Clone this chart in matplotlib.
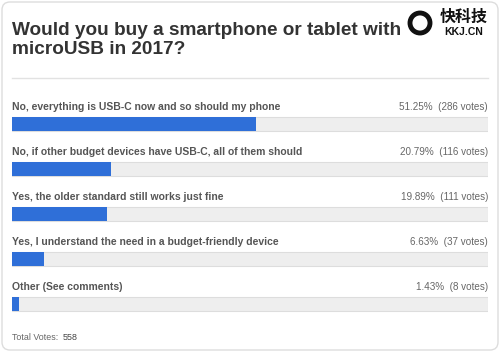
import matplotlib.pyplot as plt
from matplotlib.patches import FancyBboxPatch, Circle

plt.rcParams['font.family'] = ['Liberation Sans', 'DejaVu Sans']

title = "Would you buy a smartphone or tablet with\nmicroUSB in 2017?"
answers = [
    "No, everything is USB-C now and so should my phone",
    "No, if other budget devices have USB-C, all of them should",
    "Yes, the older standard still works just fine",
    "Yes, I understand the need in a budget-friendly device",
    "Other (See comments)",
]
percents = [51.25, 20.79, 19.89, 6.63, 1.43]
votes = [286, 116, 111, 37, 8]
total_votes = 558

W, H = 500, 352
fig = plt.figure(figsize=(W / 100, H / 100), dpi=100)
fig.patch.set_facecolor("white")

# background frame in pixel coords
bg = fig.add_axes([0, 0, 1, 1])
bg.set_xlim(0, W)
bg.set_ylim(H, 0)
bg.axis("off")
bg.add_patch(FancyBboxPatch((2, 2), W - 4, H - 4, boxstyle="round,pad=0,rounding_size=8",
                            fc="white", ec="#dddddd", lw=1))
bg.text(12, 40, title, fontsize=13.7, fontweight="bold", color="#333333",
        va="center", ha="left", linespacing=1.2)
bg.plot([12, 488], [78, 78], color="#e2e2e2", lw=1)

# logo
bg.add_patch(Circle((420, 23), 10, fc="none", ec="#111111", lw=3.5))
bg.text(464, 17, "快科技", fontsize=11.5, fontweight="bold", color="#111111",
        family=["Noto Sans CJK SC", "DejaVu Sans"], ha="center", va="center")
bg.text(464, 32, "KKJ.CN", fontsize=7.5, fontweight="bold", color="#111111",
        ha="center", va="center")

tv = bg.text(12, 337, "Total Votes:", fontsize=6.4, color="#666666", va="center")
fig.canvas.draw()
ext = tv.get_window_extent()
bg.text(ext.x1 + 4, 337, str(total_votes), fontsize=6.4, color="#444444", va="center")

# bars: x in percent, y in pixels
ax = fig.add_axes([12 / W, 0, 476 / W, 1])
ax.set_xlim(0, 100)
ax.set_ylim(H, 0)
ax.axis("off")

rows = [124 + 45 * i for i in range(len(answers))]
ax.barh(rows, [100] * len(rows), height=14, color="#eeeeee", edgecolor="#dddddd", lw=0.8)
ax.barh(rows, percents, height=14, color="#2f6fd8", lw=0)
for y, a, p, v in zip(rows, answers, percents, votes):
    ax.text(0, y - 17, a, fontsize=7.5, fontweight="bold", color="#555555", va="center")
    ax.text(100, y - 17, f"{p:.2f}%  ({v} votes)", fontsize=7.1, color="#666666",
            va="center", ha="right")

fig.savefig("out.png", dpi=100)
